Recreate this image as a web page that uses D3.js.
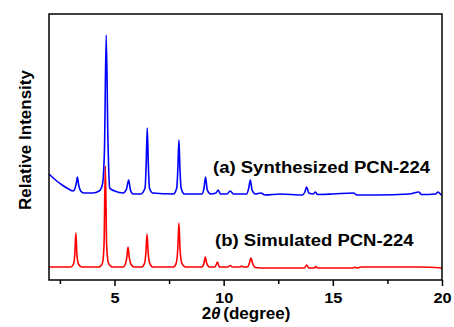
<!DOCTYPE html>
<html lang="en">
<head>
<meta charset="utf-8">
<script src="https://cdn.jsdelivr.net/npm/d3@7"></script>
<style>
    body { margin: 0; background: #fff; }
    text { font-family: Arial, "Liberation Sans", sans-serif; font-weight: bold; }
</style>
</head>
<body>
<script>
// 2theta (degree) / intensity (arb. units) points
const synthTheta = [2.0, 2.3, 2.6, 2.9, 3.1, 3.2, 3.26, 3.3, 3.36, 3.45, 3.6, 4.0, 4.3, 4.45, 4.54, 4.62, 4.7, 4.78, 4.9, 5.0, 5.4, 5.55, 5.65, 5.73, 5.85, 6.2, 6.4, 6.45, 6.5, 6.55, 6.6, 6.75, 7.7, 7.85, 7.9, 7.95, 8.0, 8.05, 8.2, 9.0, 9.1, 9.17, 9.25, 9.4, 9.65, 9.75, 9.85, 10.15, 10.3, 10.45, 11.05, 11.15, 11.22, 11.3, 11.45, 11.7, 11.9, 12.6, 13.6, 13.72, 13.8, 13.9, 14.1, 14.2, 14.3, 15.0, 15.95, 16.1, 17.0, 18.5, 18.95, 19.05, 19.7, 19.82, 19.95, 20.0];
const synthInt   = [106, 100, 95, 91, 89, 92, 98, 103, 95, 89, 87, 87, 89, 96, 130, 245, 140, 92, 90, 89, 87, 91, 100, 90, 86, 86, 92, 115, 152, 115, 92, 87, 86, 92, 110, 140, 110, 92, 86, 86, 92, 103, 90, 86, 87, 90, 86, 86, 89, 86, 86, 92, 100, 90, 86, 87, 85, 86, 85, 88, 93, 87, 86, 88, 85.5, 86, 87, 85, 85, 86, 88, 85.5, 86, 88, 85.5, 85];

const simTheta = [2.0, 3.0, 3.12, 3.18, 3.23, 3.28, 3.35, 3.5, 4.3, 4.45, 4.52, 4.58, 4.64, 4.72, 4.9, 5.4, 5.5, 5.56, 5.62, 5.68, 5.75, 5.9, 6.25, 6.38, 6.44, 6.49, 6.54, 6.61, 6.75, 7.7, 7.83, 7.9, 7.95, 8.0, 8.08, 8.25, 9.0, 9.1, 9.16, 9.22, 9.35, 9.6, 9.72, 9.8, 10.2, 10.3, 10.4, 10.75, 10.82, 10.9, 11.1, 11.18, 11.25, 11.32, 11.45, 12.0, 13.7, 13.8, 13.9, 14.15, 14.22, 14.3, 15.95, 16.02, 16.1, 16.3, 18.9, 19.0, 20.0];
const simInt   = [13, 13, 16, 25, 47, 25, 16, 13, 13, 17, 35, 114, 35, 17, 13, 13, 16, 22, 33, 22, 16, 13, 13, 17, 28, 46, 28, 17, 13, 13, 17, 32, 57, 32, 17, 13, 13, 17, 23, 17, 13, 13, 18, 13, 13, 14.5, 13, 13, 14, 13, 13, 17, 22, 17, 12.5, 12, 12, 15, 12, 12, 13.5, 12, 12, 13, 12, 13, 13, 13, 12];

const xTicks = [5, 10, 15, 20];
const xMinor = [2.5, 7.5, 12.5, 17.5];
const traceLabels = ["(a) Synthesized PCN-224", "(b) Simulated PCN-224"];

const w = 454, h = 327;
const mLeft = 49, mRight = 442, mTop = 14, mBottom = 280;
const stretch = 1.09; // the source picture is a bit wider than tall

const svg = d3.select("body").append("svg")
    .attr("width", w)
    .attr("height", h);

const x = d3.scaleLinear().domain([2, 20]).range([mLeft, mRight]);
const y = d3.scaleLinear().domain([0, 266]).range([mBottom, mTop]);

const line = d3.line()
    .x(d => x(d[0]))
    .y(d => y(d[1]))
    .curve(d3.curveMonotoneX);

svg.append("path")
    .datum(d3.zip(simTheta, simInt))
    .attr("d", line)
    .attr("fill", "none")
    .attr("stroke", "#ff0000")
    .attr("stroke-width", 1.6);

svg.append("path")
    .datum(d3.zip(synthTheta, synthInt))
    .attr("d", line)
    .attr("fill", "none")
    .attr("stroke", "#0000ff")
    .attr("stroke-width", 1.6);

// frame
svg.append("rect")
    .attr("x", mLeft)
    .attr("y", mTop)
    .attr("width", mRight - mLeft)
    .attr("height", mBottom - mTop)
    .attr("fill", "none")
    .attr("stroke", "#000")
    .attr("stroke-width", 1.5);

let xAxis = svg.append("g")
    .attr("transform", "translate(0," + mBottom + ")")
    .call(d3.axisBottom(x).tickValues(xTicks).tickSize(6).tickPadding(6).tickFormat(d3.format("d")));
xAxis.select(".domain").remove();
xAxis.selectAll("line").attr("stroke-width", 1.5);
xAxis.selectAll("text")
    .attr("font-size", "15px")
    .attr("fill", "#000")
    .attr("transform", "scale(" + stretch + ",1)");

svg.append("g")
    .attr("transform", "translate(0," + mBottom + ")")
    .call(d3.axisBottom(x).tickValues(xMinor).tickSize(4).tickFormat(""))
    .call(g => g.select(".domain").remove())
    .selectAll("line").attr("stroke-width", 1.5);

// axis titles
let xt = svg.append("text")
    .attr("x", 246)
    .attr("y", 319)
    .attr("text-anchor", "middle")
    .attr("font-size", "17px");
xt.append("tspan").text("2");
xt.append("tspan").attr("font-style", "italic").text("\u03B8");
xt.append("tspan").attr("dx", -2).text(" (degree)");

svg.append("text")
    .attr("x", 31)
    .attr("y", 140)
    .attr("text-anchor", "middle")
    .attr("font-size", "17px")
    .attr("transform", "rotate(-90, 31, 140)")
    .text("Relative Intensity");

// trace labels
svg.selectAll(".lbl")
    .data(traceLabels)
    .enter()
    .append("text")
    .attr("class", "lbl")
    .attr("transform", (d, i) => "translate(" + (i === 0 ? 213 : 215) + "," + (i === 0 ? 173 : 246) + ") scale(" + stretch + ",1)")
    .attr("font-size", "17px")
    .attr("fill", "#000")
    .text(d => d);
</script>
</body>
</html>
